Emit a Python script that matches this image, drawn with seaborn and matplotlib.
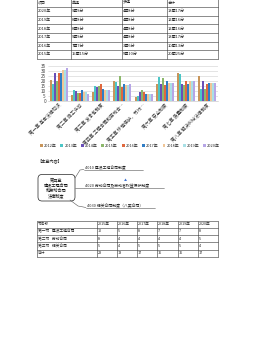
import matplotlib
matplotlib.use("Agg")
import matplotlib.pyplot as plt
import seaborn as sns
import pandas as pd
from matplotlib.patches import FancyBboxPatch

sns.set_theme(style="white")
plt.rcParams['font.family'] = ['Noto Sans CJK SC', 'DejaVu Sans']

# ---------------- data ----------------
categories = ["第一章 基本法律知识", "第二章 施工许可", "第三章 发承包制度",
              "第四章 工程合同和劳动合…", "第五章 环境保护、节约…",
              "第六章 安全制度", "第七章 质量制度", "第八章 解决纠纷法律制度"]
years = ["2012年", "2013年", "2014年", "2015年", "2016年", "2017年", "2018年", "2019年", "2020年"]
v2012 = [21, 6, 9, 20, 4, 17, 28, 25]
v2013 = [17, 11, 15, 19, 5, 24, 27, 12]
v2014 = [28, 10, 14, 15, 9, 17, 17, 20]
v2015 = [20, 8, 15, 25, 11, 23, 16, 12]
v2016 = [28, 8, 17, 14, 9, 16, 20, 17]
v2017 = [28, 11, 12, 17, 7, 20, 17, 18]
v2018 = [31, 9, 11, 16, 7, 18, 20, 18]
v2019 = [31, 9, 11, 16, 7, 18, 20, 18]
v2020 = [33, 7, 11, 17, 7, 18, 20, 18]
series = [v2012, v2013, v2014, v2015, v2016, v2017, v2018, v2019, v2020]
colors = ['#C8955A', '#4CC6C6', '#6A4FB8', '#8CB86B', '#E0683E', '#2F7DC6',
          '#F0C596', '#A8E0E6', '#B6A5E6']

top_header = ["项目", "单选", "多选", "合计"]
top_rows = [["2020年", "9题9分", "4题8分", "13题17分"],
            ["2019年", "8题8分", "4题8分", "12题16分"],
            ["2018年", "8题8分", "4题8分", "12题16分"],
            ["2017年", "9题9分", "4题8分", "13题17分"],
            ["2016年", "7题7分", "3题6分", "10题13分"],
            ["2015年", "15题15分", "5题10分", "20题25分"]]

mind_title = "第四章\n建设工程合同\n和劳动合同\n法律制度"
mind_branches = ["4010 建设工程合同制度", "4020 劳动合同及劳动者权益保护制度",
                 "4030 相关合同制度（八类合同）"]

bot_header = ["节名称", "2015年", "2016年", "2017年", "2018年", "2019年", "2020年"]
bot_rows = [["第一节   建设工程合同", "10", "5", "8", "7", "7", "8"],
            ["第二节   劳动合同", "8", "4", "4", "4", "4", "5"],
            ["第三节   相关合同", "5", "4", "5", "5", "5", "4"],
            ["合计", "23", "13", "17", "16", "16", "17"]]

W, H = 255, 362
fig = plt.figure(figsize=(W / 100, H / 100), dpi=100)
fig.patch.set_facecolor('white')

page = fig.add_axes([0, 0, 1, 1])
page.set_xlim(0, W)
page.set_ylim(H, 0)
page.axis('off')

FS = 2.9
LC = '#333333'


def draw_table(x_edges, y_edges, header, rows, fs=FS):
    allrows = [header] + rows
    for y in y_edges:
        page.plot([x_edges[0], x_edges[-1]], [y, y], color=LC, lw=0.4)
    for x in x_edges:
        page.plot([x, x], [y_edges[0], y_edges[-1]], color=LC, lw=0.4)
    for r, row in enumerate(allrows):
        yc = (y_edges[r] + y_edges[r + 1]) / 2
        for c, txt in enumerate(row):
            page.text(x_edges[c] + 0.8, yc, txt, fontsize=fs, va='center', ha='left', color='#222222')


# top table
tx = [37, 71, 122, 167, 218]
ty = [-1.5 + 8.6 * i for i in range(8)]
draw_table(tx, ty, top_header, top_rows)

# bar chart
rows = []
for yr, vals in zip(years, series):
    for cat, v in zip(categories, vals):
        rows.append({"cat": cat, "year": yr, "val": v})
df = pd.DataFrame(rows)

ax = fig.add_axes([48 / W, 1 - 101.3 / H, (218 - 48) / W, (101.3 - 66) / H])
sns.barplot(data=df, x="cat", y="val", hue="year", palette=colors, ax=ax,
            width=0.85, legend=True, saturation=1, linewidth=0, edgecolor='none')
ax.set_ylim(0, 35)
ax.set_yticks(range(0, 36, 5))
ax.yaxis.grid(True, color='#D0D0D0', lw=0.4)
ax.set_axisbelow(True)
for s in ['top', 'right', 'left']:
    ax.spines[s].set_visible(False)
ax.spines['bottom'].set_color('#BFBFBF')
ax.spines['bottom'].set_linewidth(0.4)
ax.set_xlabel("")
ax.set_ylabel("")
ax.tick_params(axis='y', labelsize=3.4, length=0, pad=1.5, colors='#444444')
ax.tick_params(axis='x', labelsize=3.3, length=0, pad=1, colors='#333333')
ax.set_xticks(range(len(categories)))
ax.set_xticklabels(categories, rotation=45, ha='right', rotation_mode='anchor')
h, l = ax.get_legend_handles_labels()
ax.get_legend().remove()
for hh in h:
    hh.set_linewidth(0)
fig.legend(h, l, loc='center', bbox_to_anchor=(0.51, 1 - 146 / H), ncol=9,
           frameon=False, fontsize=2.8, handlelength=0.7, handleheight=0.7,
           handletextpad=0.3, columnspacing=1.0, borderpad=0)

# mind map
page.text(37, 161, "【本章内容】", fontsize=3.0, va='center', ha='left', color='#222222')
box = FancyBboxPatch((38, 174.5), 37, 26.5, boxstyle="round,pad=0,rounding_size=4",
                     fc='white', ec='#222222', lw=0.5)
page.add_patch(box)
page.text(56.5, 187.8, mind_title, fontsize=3.0, ha='center', va='center',
          linespacing=1.15, color='#111111')
# branches
page.plot([75, 80, 84], [178, 170, 169.5], color='#555555', lw=0.4)
page.plot([84, 143], [169.5, 169.5], color='#555555', lw=0.4)
page.text(85, 167.6, mind_branches[0], fontsize=2.8, ha='left', va='center', color='#222222')
page.plot([75, 84], [188, 188], color='#555555', lw=0.4)
page.plot([84, 164], [188, 188], color='#555555', lw=0.4)
page.text(85, 186, mind_branches[1], fontsize=2.8, ha='left', va='center', color='#222222')
page.text(124, 180.5, "▲", fontsize=2.2, ha='left', va='center', color='#3A6FD0')
page.plot([70, 78, 86], [200, 206, 207.5], color='#555555', lw=0.4)
page.plot([86, 155], [207.5, 207.5], color='#555555', lw=0.4)
page.text(87, 205.5, mind_branches[2], fontsize=2.8, ha='left', va='center', color='#222222')

# bottom table
bx = [37, 97, 117, 137, 157, 178, 198, 218]
by = [220.5 + 7.3 * i for i in range(6)]
draw_table(bx, by, bot_header, bot_rows, fs=2.7)

fig.savefig("out.png", dpi=100, facecolor='white')
